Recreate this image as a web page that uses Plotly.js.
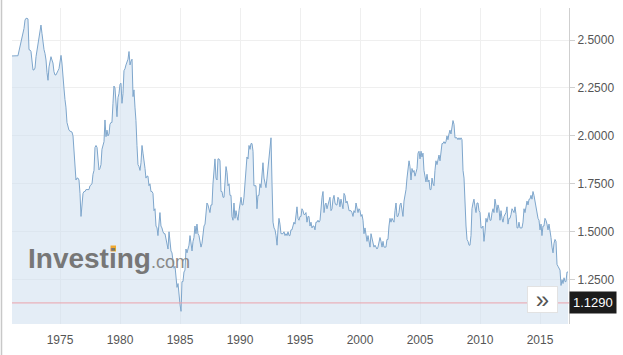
<!DOCTYPE html>
<html>
<head>
<meta charset="utf-8">
<script src="https://cdn.plot.ly/plotly-3.0.1.min.js"></script>
<style>
html,body{margin:0;padding:0;background:#fff;}
#chart{width:623px;height:355px;}
</style>
</head>
<body>
<div id="chart"></div>
<script>
// Monthly GBP/USD values, starting January 1971
const startYear = 1971;
const rates1970s = [
  2.417,2.418,2.418,2.418,2.418,2.418,2.418,2.440,2.465,2.490,2.505,2.540, // 1971
  2.560,2.604,2.613,2.613,2.610,2.450,2.448,2.440,2.400,2.344,2.344,2.354, // 1972
  2.413,2.450,2.483,2.520,2.552,2.578,2.535,2.483,2.450,2.430,2.396,2.330, // 1973
  2.290,2.360,2.390,2.413,2.396,2.380,2.335,2.318,2.318,2.335,2.340,2.350, // 1974
  2.380,2.420,2.380,2.330,2.250,2.190,2.150,2.070,2.040,2.030,2.025,2.020, // 1975
  2.020,2.000,1.920,1.840,1.770,1.780,1.780,1.770,1.700,1.580,1.660,1.700, // 1976
  1.710,1.710,1.720,1.720,1.720,1.720,1.740,1.745,1.750,1.800,1.820,1.940, // 1977
  1.950,1.940,1.860,1.823,1.830,1.850,1.930,1.950,1.970,2.083,1.996,2.030, // 1978
  2.000,2.010,2.060,2.070,2.070,2.170,2.260,2.250,2.180,2.100,2.200,2.220  // 1979
];
const rates1980s = [
  2.270,2.275,2.170,2.220,2.340,2.350,2.370,2.390,2.400,2.440,2.370,2.390, // 1980
  2.400,2.205,2.240,2.150,2.080,1.950,1.850,1.840,1.820,1.860,1.950,1.910, // 1981
  1.880,1.830,1.780,1.790,1.790,1.740,1.750,1.710,1.710,1.700,1.610,1.620, // 1982
  1.530,1.520,1.480,1.560,1.600,1.530,1.520,1.500,1.490,1.490,1.460,1.450, // 1983
  1.410,1.500,1.450,1.400,1.390,1.360,1.310,1.320,1.240,1.210,1.230,1.160, // 1984
  1.120,1.085,1.240,1.240,1.290,1.300,1.410,1.390,1.410,1.430,1.480,1.445, // 1985
  1.400,1.450,1.470,1.530,1.490,1.540,1.490,1.480,1.440,1.420,1.440,1.480, // 1986
  1.530,1.540,1.600,1.650,1.640,1.610,1.600,1.640,1.640,1.750,1.840,1.880, // 1987
  1.780,1.770,1.880,1.880,1.870,1.710,1.710,1.680,1.680,1.760,1.840,1.810, // 1988
  1.740,1.750,1.690,1.690,1.580,1.560,1.650,1.570,1.610,1.580,1.560,1.610  // 1989
];
const rates1990s = [
  1.660,1.680,1.640,1.640,1.680,1.750,1.860,1.890,1.880,1.950,1.930,1.960, // 1990
  1.960,1.920,1.740,1.740,1.740,1.620,1.690,1.690,1.750,1.730,1.780,1.860, // 1991
  1.780,1.750,1.730,1.780,1.830,1.900,1.920,1.990,1.750,1.550,1.520,1.510, // 1992
  1.480,1.430,1.510,1.570,1.540,1.490,1.490,1.490,1.500,1.480,1.490,1.480, // 1993
  1.500,1.480,1.480,1.510,1.510,1.540,1.550,1.540,1.580,1.630,1.570,1.560, // 1994
  1.580,1.580,1.620,1.610,1.590,1.590,1.600,1.550,1.580,1.580,1.530,1.550, // 1995
  1.520,1.530,1.530,1.510,1.550,1.550,1.560,1.550,1.560,1.630,1.680,1.710, // 1996
  1.600,1.640,1.650,1.620,1.640,1.660,1.680,1.610,1.620,1.670,1.690,1.650, // 1997
  1.640,1.640,1.680,1.670,1.630,1.670,1.640,1.620,1.700,1.690,1.650,1.660, // 1998
  1.640,1.610,1.610,1.610,1.600,1.580,1.610,1.600,1.650,1.630,1.600,1.620  // 1999
];
const rates2000s = [
  1.610,1.580,1.590,1.560,1.490,1.520,1.490,1.450,1.480,1.450,1.420,1.490, // 2000
  1.460,1.440,1.420,1.430,1.420,1.410,1.420,1.450,1.470,1.450,1.420,1.450, // 2001
  1.420,1.420,1.420,1.460,1.460,1.530,1.570,1.550,1.570,1.560,1.550,1.610, // 2002
  1.650,1.580,1.580,1.600,1.640,1.650,1.610,1.580,1.660,1.690,1.720,1.780, // 2003
  1.820,1.870,1.840,1.770,1.830,1.810,1.820,1.790,1.810,1.830,1.910,1.920, // 2004
  1.880,1.920,1.890,1.910,1.820,1.790,1.760,1.800,1.760,1.770,1.720,1.720, // 2005
  1.780,1.750,1.740,1.820,1.870,1.850,1.870,1.900,1.870,1.910,1.960,1.960, // 2006
  1.970,1.960,1.970,2.000,1.980,2.010,2.030,2.010,2.040,2.080,2.060,1.990, // 2007
  1.990,1.990,1.980,1.990,1.980,1.990,1.980,1.820,1.780,1.620,1.530,1.460, // 2008
  1.450,1.430,1.430,1.480,1.620,1.650,1.670,1.630,1.600,1.650,1.650,1.610  // 2009
];
const rates2010s = [
  1.600,1.520,1.520,1.530,1.450,1.500,1.570,1.550,1.570,1.600,1.560,1.560, // 2010
  1.600,1.620,1.600,1.670,1.640,1.600,1.640,1.620,1.560,1.610,1.570,1.550, // 2011
  1.580,1.590,1.600,1.630,1.540,1.570,1.570,1.590,1.620,1.610,1.600,1.630, // 2012
  1.590,1.520,1.520,1.550,1.520,1.520,1.520,1.550,1.620,1.600,1.640,1.660, // 2013
  1.640,1.670,1.670,1.690,1.670,1.710,1.690,1.660,1.620,1.600,1.570,1.560, // 2014
  1.510,1.540,1.480,1.530,1.530,1.570,1.560,1.540,1.510,1.540,1.510,1.470, // 2015
  1.420,1.390,1.440,1.460,1.450,1.330,1.320,1.310,1.300,1.220,1.250,1.230, // 2016
  1.260,1.240,1.240,1.290,1.290                                            // 2017
];
const yTickValues = [1.25, 1.5, 1.75, 2.0, 2.25, 2.5];
const currentLevel = 1.129;
const currentLabel = '1.1290';

const rates = [].concat(rates1970s, rates1980s, rates1990s, rates2000s, rates2010s);
const dates = rates.map((_, i) => {
  const y = startYear + Math.floor(i / 12);
  const m = (i % 12) + 1;
  return y + '-' + (m < 10 ? '0' + m : m) + '-01';
});

// pixel helpers for decorations (plot area: x 12..569, y 8..324)
const PL = 12, PR = 569, PT = 8, PB = 324;
const px = x => (x - PL) / (PR - PL);
const py = y => (PB - y) / (PB - PT);

const trace = {
  x: dates, y: rates, type: 'scatter', mode: 'lines',
  line: {color: '#7ea6cc', width: 1},
  fill: 'tozeroy', fillcolor: 'rgba(205,222,238,0.55)',
  hoverinfo: 'skip'
};

const axisFont = {family: 'Arial, Liberation Sans, sans-serif', size: 12, color: '#555'};

const layout = {
  width: 623, height: 355,
  margin: {l: PL, r: 623 - PR, t: PT, b: 355 - PB},
  paper_bgcolor: '#fff', plot_bgcolor: '#fff',
  showlegend: false,
  xaxis: {
    type: 'date', range: ['1971-01-01', '2017-06-01'],
    tick0: '1975-01-01', dtick: 'M60', tickformat: '%Y',
    showgrid: true, gridcolor: '#efefef', gridwidth: 1,
    showline: false, zeroline: false, ticks: '',
    ticklabelstandoff: 7,
    tickfont: axisFont, fixedrange: true
  },
  yaxis: {
    side: 'right', range: [1.019, 2.667],
    tickmode: 'array', tickvals: yTickValues, tickformat: '.4f',
    showgrid: true, gridcolor: '#efefef', gridwidth: 1,
    showline: true, linecolor: '#cfcfcf', linewidth: 1,
    ticks: 'outside', ticklen: 5, tickcolor: '#cfcfcf',
    zeroline: false, tickfont: axisFont, fixedrange: true
  },
  shapes: [
    {type: 'line', xref: 'paper', yref: 'y', x0: 0, x1: 1, y0: currentLevel, y1: currentLevel,
     line: {color: '#eba3ab', width: 1}},
    {type: 'line', xref: 'paper', yref: 'paper', x0: px(1.5), x1: px(1.5), y0: py(355), y1: py(0),
     line: {color: '#c8c8c8', width: 1.5}},
    {type: 'rect', xref: 'paper', yref: 'paper', x0: px(110.5), x1: px(116), y0: py(251.5), y1: py(245.5),
     fillcolor: '#f0a830', line: {width: 0}, layer: 'above'}
  ],
  annotations: [
    {xref: 'paper', yref: 'y', x: 1, y: currentLevel, xanchor: 'left', yanchor: 'middle',
     text: currentLabel, showarrow: false, bgcolor: '#1c1c1c', borderpad: 3,
     font: {family: 'Arial, Liberation Sans, sans-serif', size: 13, color: '#fff'}},
    {xref: 'paper', yref: 'paper', x: px(542.5), y: py(299.5), xanchor: 'center', yanchor: 'middle',
     text: '»', showarrow: false, bgcolor: '#ffffff', bordercolor: '#e2e2e2', borderwidth: 1,
     width: 27, height: 23, font: {family: 'Arial, Liberation Sans, sans-serif', size: 24, color: '#555'}},
    {xref: 'paper', yref: 'paper', x: px(26), y: py(258), xanchor: 'left', yanchor: 'middle',
     text: '<b>Investing</b><span style="font-size:18px;color:#8a8a8a">.com</span>', showarrow: false,
     font: {family: 'Arial, Liberation Sans, sans-serif', size: 28, color: '#777777'}}
  ]
};

Plotly.newPlot('chart', [trace], layout, {displayModeBar: false, staticPlot: true});
</script>
</body>
</html>
